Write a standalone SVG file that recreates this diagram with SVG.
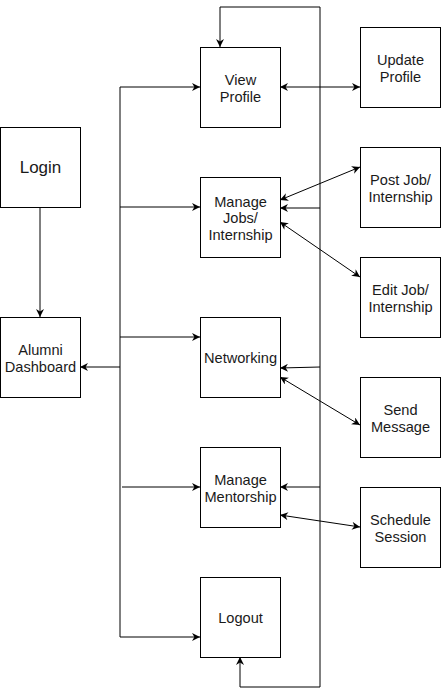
<svg xmlns="http://www.w3.org/2000/svg" width="441" height="696" viewBox="0 0 441 696">
<defs>
<marker id="arr" viewBox="0 0 10 10" refX="10" refY="5" markerWidth="9" markerHeight="8" markerUnits="userSpaceOnUse" orient="auto-start-reverse">
<path d="M0,0 L10,5 L0,10 L3,5 z" fill="#000"/>
</marker>
</defs>
<style>
.box{fill:#fff;stroke:#000;stroke-width:1}
.t{font-family:"Liberation Sans",Arial,sans-serif;font-size:14.6px;fill:#1a1a1a;text-anchor:middle}
.big{font-size:17px}
.c{fill:none;stroke:#000;stroke-width:1}
.a{marker-end:url(#arr)}
.d{marker-start:url(#arr);marker-end:url(#arr)}
</style>
<rect width="441" height="696" fill="#fff"/>
<g id="connectors">
<path class="c a" d="M40,207 V317"/>
<path class="c" d="M120,87 V637"/>
<path class="c a" d="M120,87 H200"/>
<path class="c a" d="M120,207 H200"/>
<path class="c a" d="M120,337 H200"/>
<path class="c a" d="M122,487 H200"/>
<path class="c a" d="M120,637 H200"/>
<path class="c a" d="M120,367 H80"/>
<path class="c" d="M320,7 V687"/>
<path class="c a" d="M320,7 H220 V47"/>
<path class="c a" d="M320,687 H240 V657"/>
<path class="c a" d="M320,208 L280,208"/>
<path class="c a" d="M320,367 L280,368"/>
<path class="c a" d="M320,487 L280,487"/>
<path class="c d" d="M280,87 L360,87"/>
<path class="c d" d="M280,200 L360,167"/>
<path class="c d" d="M280,222 L360,277"/>
<path class="c d" d="M280,377 L360,425"/>
<path class="c d" d="M280,515 L360,527"/>
</g>
<g id="login"><rect class="box" x="0.5" y="127.5" width="80" height="80"/><text class="t big" x="40.5" y="173">Login</text></g>
<g id="dashboard"><rect class="box" x="0.5" y="317.5" width="80" height="80"/><text class="t" x="40.5" y="355">Alumni</text><text class="t" x="40.5" y="372">Dashboard</text></g>
<g id="view-profile"><rect class="box" x="200.5" y="47.5" width="80" height="80"/><text class="t" x="240.5" y="85">View</text><text class="t" x="240.5" y="102">Profile</text></g>
<g id="manage-jobs"><rect class="box" x="200.5" y="177.5" width="80" height="80"/><text class="t" x="240.5" y="206.5">Manage</text><text class="t" x="240.5" y="223">Jobs/</text><text class="t" x="240.5" y="240">Internship</text></g>
<g id="networking"><rect class="box" x="200.5" y="317.5" width="80" height="80"/><text class="t" x="240.5" y="363">Networking</text></g>
<g id="manage-mentorship"><rect class="box" x="200.5" y="447.5" width="80" height="80"/><text class="t" x="240.5" y="485">Manage</text><text class="t" x="240.5" y="502">Mentorship</text></g>
<g id="logout"><rect class="box" x="200.5" y="577.5" width="80" height="80"/><text class="t" x="240.5" y="623">Logout</text></g>
<g id="update-profile"><rect class="box" x="360.5" y="27.5" width="80" height="80"/><text class="t" x="400.5" y="65">Update</text><text class="t" x="400.5" y="82">Profile</text></g>
<g id="post-job"><rect class="box" x="360.5" y="147.5" width="80" height="80"/><text class="t" x="400.5" y="185">Post Job/</text><text class="t" x="400.5" y="202">Internship</text></g>
<g id="edit-job"><rect class="box" x="360.5" y="257.5" width="80" height="80"/><text class="t" x="400.5" y="295">Edit Job/</text><text class="t" x="400.5" y="312">Internship</text></g>
<g id="send-message"><rect class="box" x="360.5" y="377.5" width="80" height="80"/><text class="t" x="400.5" y="415">Send</text><text class="t" x="400.5" y="432">Message</text></g>
<g id="schedule-session"><rect class="box" x="360.5" y="487.5" width="80" height="80"/><text class="t" x="400.5" y="525">Schedule</text><text class="t" x="400.5" y="542">Session</text></g>
</svg>
